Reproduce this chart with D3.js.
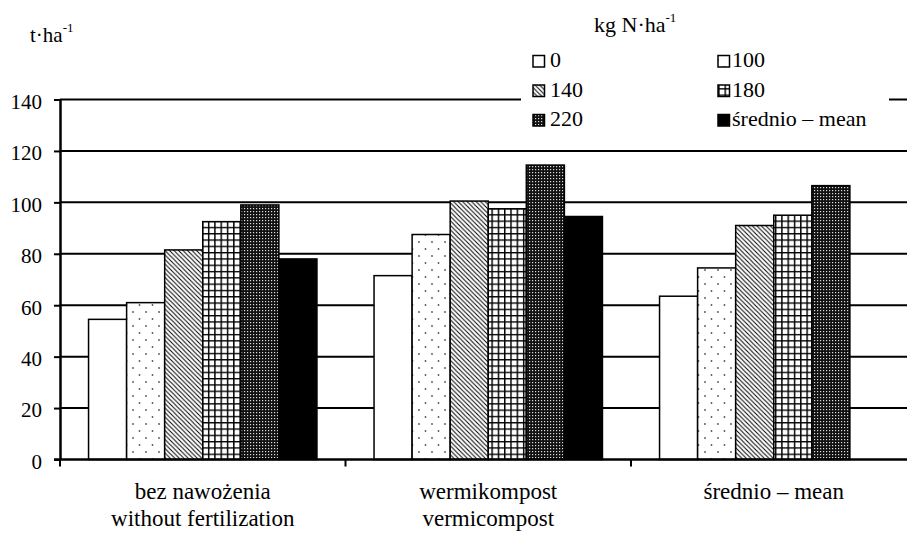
<!DOCTYPE html>
<html>
<head>
<meta charset="utf-8">
<script src="https://cdn.jsdelivr.net/npm/d3@7"></script>
<style>
  body { margin: 0; background: #fff; }
  svg text { font-family: "Liberation Serif", "Times New Roman", Times, "DejaVu Serif", serif !important; fill: #000; }
</style>
</head>
<body>
<svg id="chart" width="907" height="534"></svg>
<script>
// Yield (t·ha-1) by fertilisation variant and nitrogen dose (kg N·ha-1)
const groups = [
  ["bez nawożenia", "without fertilization"],
  ["wermikompost", "vermicompost"],
  ["średnio – mean"]
];
const doses = ["0", "100", "140", "180", "220", "średnio – mean"];

const dose0   = [54.5, 71.5, 63.5];
const dose100 = [61.0, 87.5, 74.5];
const dose140 = [81.5, 100.5, 91.0];
const dose180 = [92.5, 97.5, 95.0];
const dose220 = [99.0, 114.5, 106.5];
const doseMean = [78.0, 94.5, null];

const yTicks = [0, 20, 40, 60, 80, 100, 120, 140];

const seriesValues = [dose0, dose100, dose140, dose180, dose220, doseMean];
const fills = ["#fff", "url(#pDots)", "url(#pDiag)", "url(#pGrid)", "url(#pDense)", "#000"];

const FONT = "'Liberation Serif','Times New Roman',Times,'DejaVu Serif',serif";
const svg = d3.select("#chart").attr("font-family", FONT);
const W = 907;

// ---------- fill patterns ----------
const defs = svg.append("defs");

const pDots = defs.append("pattern").attr("id", "pDots")
  .attr("patternUnits", "userSpaceOnUse").attr("width", 13).attr("height", 14);
pDots.append("rect").attr("width", 13).attr("height", 14).attr("fill", "#fff");
pDots.append("circle").attr("cx", 3).attr("cy", 4).attr("r", 0.9).attr("fill", "#555");
pDots.append("circle").attr("cx", 9.5).attr("cy", 11).attr("r", 0.9).attr("fill", "#555");

const pDiag = defs.append("pattern").attr("id", "pDiag")
  .attr("patternUnits", "userSpaceOnUse").attr("width", 4.5).attr("height", 4.5);
pDiag.append("rect").attr("width", 4.5).attr("height", 4.5).attr("fill", "#fff");
pDiag.append("path").attr("d", "M-1,-1L5.5,5.5M-1,3.5L1,5.5M3.5,-1L5.5,1")
  .attr("stroke", "#000").attr("stroke-width", 1);

const pGrid = defs.append("pattern").attr("id", "pGrid")
  .attr("patternUnits", "userSpaceOnUse").attr("width", 6.3).attr("height", 6.3);
pGrid.append("rect").attr("width", 6.3).attr("height", 6.3).attr("fill", "#fff");
pGrid.append("path").attr("d", "M0.7,0V6.3M0,0.7H6.3")
  .attr("stroke", "#000").attr("stroke-width", 1.5);

const pDense = defs.append("pattern").attr("id", "pDense")
  .attr("patternUnits", "userSpaceOnUse").attr("width", 3).attr("height", 3);
pDense.append("rect").attr("width", 3).attr("height", 3).attr("fill", "#111");
pDense.append("rect").attr("x", 1).attr("y", 1).attr("width", 1.2).attr("height", 1.2).attr("fill", "#ddd");

// ---------- scales ----------
const plotLeft = 60, plotRight = 916.5, yBottom = 459.5, yTop = 99.5;

const x0 = d3.scaleBand().domain(d3.range(groups.length))
  .range([plotLeft, plotRight]).paddingInner(0).paddingOuter(0);
const bw = x0.bandwidth();
const x1 = d3.scaleBand().domain(d3.range(doses.length))
  .range([bw * 0.1, bw * 0.9]).padding(0);

const y = d3.scaleLinear().domain([0, 140]).range([yBottom, yTop]);

// ---------- gridlines ----------
svg.append("g").selectAll("line")
  .data(yTicks.filter(d => d > 0))
  .join("line")
  .attr("x1", plotLeft).attr("x2", W)
  .attr("y1", d => y(d)).attr("y2", d => y(d))
  .attr("stroke", "#000").attr("stroke-width", 2);

// ---------- bars ----------
const barData = [];
seriesValues.forEach((vals, si) => {
  vals.forEach((v, gi) => {
    if (v != null) barData.push({ si, gi, v });
  });
});

svg.append("g").selectAll("rect")
  .data(barData)
  .join("rect")
  .attr("x", d => x0(d.gi) + x1(d.si))
  .attr("width", x1.bandwidth())
  .attr("y", d => y(d.v))
  .attr("height", d => y(0) - y(d.v))
  .attr("fill", d => fills[d.si])
  .attr("stroke", "#000")
  .attr("stroke-width", 1.5);

// ---------- axes ----------
const yAxis = d3.axisLeft(y).tickValues(yTicks).tickSize(6).tickSizeOuter(0).tickPadding(12);
const gy = svg.append("g").attr("transform", `translate(${plotLeft},0)`).call(yAxis)
  .attr("font-family", FONT).attr("font-size", 21);
gy.select(".domain").attr("stroke-width", 2.5);
gy.selectAll(".tick line").attr("stroke-width", 2);
gy.selectAll(".tick text").attr("dy", "0.42em");

// x axis baseline and category separators
svg.append("line")
  .attr("x1", plotLeft - 6).attr("x2", W)
  .attr("y1", y(0)).attr("y2", y(0))
  .attr("stroke", "#000").attr("stroke-width", 2.5);

svg.append("g").selectAll("line")
  .data(d3.range(groups.length + 1))
  .join("line")
  .attr("x1", i => plotLeft + i * x0.step()).attr("x2", i => plotLeft + i * x0.step())
  .attr("y1", y(0)).attr("y2", y(0) + 7)
  .attr("stroke", "#000").attr("stroke-width", 2);

// category labels (two lines: Polish / English)
const cat = svg.append("g").selectAll("text")
  .data(groups)
  .join("text")
  .attr("text-anchor", "middle")
  .attr("font-size", 23);
cat.each(function (lines, gi) {
  const t = d3.select(this);
  lines.forEach((ln, li) => {
    t.append("tspan")
      .attr("x", x0(gi) + bw / 2)
      .attr("y", 499 + li * 26.5)
      .text(ln);
  });
});

// y-axis unit
const yUnit = svg.append("text").attr("x", 30).attr("y", 42).attr("font-size", 21);
yUnit.append("tspan").text("t·ha");
yUnit.append("tspan").attr("dy", -10).attr("font-size", 13).text("-1");

// ---------- legend ----------
const legend = svg.append("g");
legend.append("rect")
  .attr("x", 521).attr("y", 4).attr("width", 368).attr("height", 136)
  .attr("fill", "#fff");

const lTitle = legend.append("text").attr("x", 594).attr("y", 32).attr("font-size", 22);
lTitle.append("tspan").text("kg N·ha");
lTitle.append("tspan").attr("dy", -10).attr("font-size", 13).text("-1");

const colX = [533, 718];
const colTextX = [550, 732];
const rowY = [67, 96.5, 126];

const items = legend.selectAll("g.item")
  .data(doses)
  .join("g").attr("class", "item");
items.append("rect")
  .attr("x", (d, i) => colX[i % 2])
  .attr("y", (d, i) => rowY[Math.floor(i / 2)] - 11.5)
  .attr("width", 11.5).attr("height", 11.5)
  .attr("fill", (d, i) => fills[i])
  .attr("stroke", "#000").attr("stroke-width", 1.5);
items.append("text")
  .attr("x", (d, i) => colTextX[i % 2])
  .attr("y", (d, i) => rowY[Math.floor(i / 2)])
  .attr("font-size", 22)
  .text(d => d);
</script>
</body>
</html>
